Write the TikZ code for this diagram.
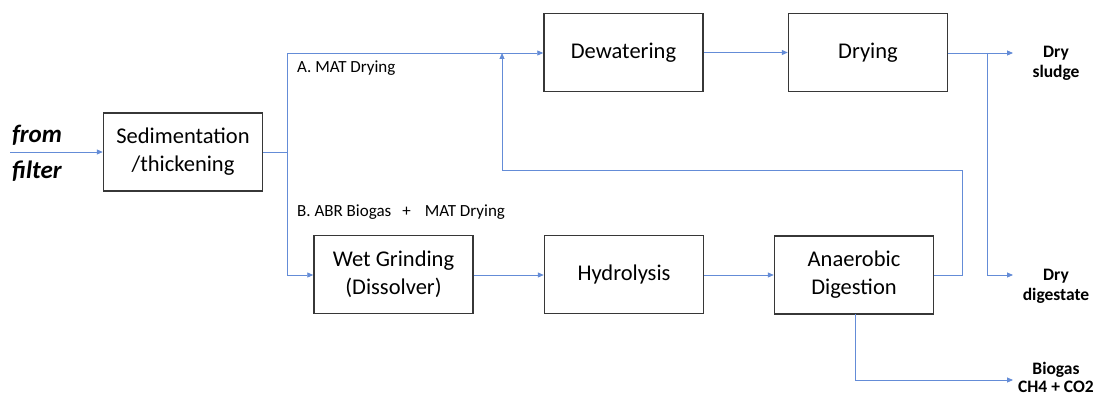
\documentclass[tikz,border=0pt]{standalone}
\usepackage{fontspec}
\setmainfont{Carlito}
\usetikzlibrary{arrows.meta}
\definecolor{flow}{RGB}{100,140,215}
\definecolor{boxline}{RGB}{55,55,55}
\tikzset{
  procbox/.style={draw=boxline, line width=1.5pt, minimum width=159pt, minimum height=78pt,
    align=center, inner sep=0pt, font=\fontsize{22.5}{28}\selectfont},
  flowline/.style={draw=flow, line width=0.9pt},
  flowarrow/.style={flowline, -{Triangle[length=6pt,width=5pt]}},
  pathlabel/.style={font=\fontsize{17}{20}\selectfont, anchor=west, inner sep=0pt},
  outlabel/.style={font=\fontsize{17.5}{20}\selectfont\bfseries, align=center, inner sep=0pt},
  inlabel/.style={font=\fontsize{25}{28}\selectfont\bfseries\itshape, inner sep=0pt}
}
\begin{document}
\begin{tikzpicture}[x=1pt,y=-1pt]
\useasboundingbox (0,0) rectangle (1107,396);
\fill[white] (0,0) rectangle (1107,396);

\node[procbox] (sed) at (183,152) {Sedimentation\\/thickening};
\node[procbox] (dew) at (623.5,52.5) {Dewatering};
\node[procbox] (dry) at (868,52.5) {Drying};
\node[procbox] (wet) at (393.5,274.5) {Wet Grinding\\(Dissolver)};
\node[procbox] (hyd) at (624,274.5) {Hydrolysis};
\node[procbox] (ana) at (854,275) {Anaerobic\\Digestion};

\node[inlabel] (from) at (37,135) {from};
\node[inlabel] (filt) at (37,171) {filter};
\coordinate (src) at (10,152);

\node[pathlabel] (la) at (297,68) {A. MAT Drying};
\node[pathlabel] (lb) at (297,212) {B. ABR Biogas\hspace{11pt}+\hspace{14pt}MAT Drying};

\node[outlabel] (osl) at (1056,63) {Dry\\sludge};
\node[outlabel] (odg) at (1056,286) {Dry\\digestate};
\node[outlabel, font=\fontsize{17.5}{18}\selectfont\bfseries] (obg) at (1056,377) {Biogas\\CH4 + CO2};

\coordinate (split) at (287,152);
\coordinate (splitT) at (287,53);
\coordinate (splitB) at (287,275);
\coordinate (tipS) at (1013,53);
\coordinate (tipD) at (1013,275);
\coordinate (tipB) at (1013,380);
\coordinate (dsplit) at (987,53);
\coordinate (loopR) at (962,275);
\coordinate (loopTop) at (502,53);

% input
\draw[flowarrow] (src) -- (sed.west);
% split
\draw[flowline] (sed.east) -- (split);
\draw[flowarrow] (split) -- (splitT) -- (splitT -| dew.west);
\draw[flowarrow] (split) -- (splitB) -- (splitB -| wet.west);
% top row
\draw[flowarrow] (dew.east) -- (dew.east -| dry.west);
\draw[flowarrow] (dry.east |- tipS) -- (tipS);
\draw[flowarrow] (dsplit) -- (dsplit |- tipD) -- (tipD);
% bottom row
\draw[flowarrow] (wet.east |- splitB) -- (hyd.west |- splitB);
\draw[flowarrow] (hyd.east |- splitB) -- (ana.west |- splitB);
% recycle loop
\draw[flowarrow] (ana.east |- loopR) -- (loopR) -- (962,170) -- (502,170) -- (loopTop);
% biogas
\draw[flowarrow] (855,314) -- (855,380) -- (tipB);
\end{tikzpicture}
\end{document}
